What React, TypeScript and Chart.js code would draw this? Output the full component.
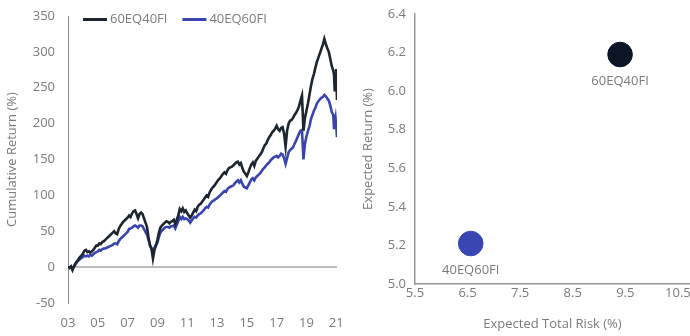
import React, { useEffect, useRef } from "react";
import { Chart, registerables } from "chart.js";

Chart.register(...registerables);

// ---------- DATA ----------
const seriesNames = ["60EQ40FI", "40EQ60FI"];

// decimal years (x positions of the cumulative return series)
const years = [
  2003.0, 2003.1, 2003.2, 2003.3, 2003.4, 2003.5, 2003.6, 2003.7, 2003.8, 2003.9,
  2004.0, 2004.1, 2004.2, 2004.3, 2004.4, 2004.5, 2004.6, 2004.7, 2004.8, 2004.9,
  2005.0, 2005.1, 2005.2, 2005.3, 2005.4, 2005.5, 2005.6, 2005.7, 2005.8, 2005.9,
  2006.0, 2006.1, 2006.2, 2006.3, 2006.4, 2006.5, 2006.6, 2006.7, 2006.8, 2006.9,
  2007.0, 2007.1, 2007.2, 2007.3, 2007.4, 2007.5, 2007.6, 2007.7, 2007.8, 2007.9,
  2008.0, 2008.1, 2008.2, 2008.3, 2008.4, 2008.5, 2008.6, 2008.7, 2008.8, 2008.9,
  2009.0, 2009.1, 2009.2, 2009.3, 2009.4, 2009.5, 2009.6, 2009.7, 2009.8, 2009.9,
  2010.0, 2010.1, 2010.2, 2010.3, 2010.4, 2010.5, 2010.6, 2010.7, 2010.8, 2010.9,
  2011.0, 2011.1, 2011.2, 2011.3, 2011.4, 2011.5, 2011.6, 2011.7, 2011.8, 2011.9,
  2012.0, 2012.1, 2012.2, 2012.3, 2012.4, 2012.5, 2012.6, 2012.7, 2012.8, 2012.9,
  2013.0, 2013.1, 2013.2, 2013.3, 2013.4, 2013.5, 2013.6, 2013.7, 2013.8, 2013.9,
  2014.0, 2014.1, 2014.2, 2014.3, 2014.4, 2014.5, 2014.6, 2014.7, 2014.8, 2014.9,
  2015.0, 2015.1, 2015.2, 2015.3, 2015.4, 2015.5, 2015.6, 2015.7, 2015.8, 2015.9,
  2016.0, 2016.1, 2016.2, 2016.3, 2016.4, 2016.5, 2016.6, 2016.7, 2016.8, 2016.9,
  2017.0, 2017.1, 2017.2, 2017.3, 2017.4, 2017.5, 2017.6, 2017.7, 2017.8, 2017.9,
  2018.0, 2018.1, 2018.2, 2018.3, 2018.4, 2018.5, 2018.6, 2018.7, 2018.8, 2018.9,
  2019.0, 2019.1, 2019.2, 2019.3, 2019.4, 2019.5, 2019.6, 2019.7, 2019.8, 2019.9,
  2020.0, 2020.1, 2020.2, 2020.3, 2020.4, 2020.5, 2020.6, 2020.7, 2020.8, 2020.85,
  2020.9, 2020.95, 2021.0, 2021.05,
];

// cumulative return (%) – 60EQ40FI
const eq60fi40 = [
  0, -1, 1, -4, 1, 5, 8, 11, 14, 16,
  19, 23, 24, 21, 22, 20, 22, 24, 27, 30,
  30, 33, 32, 35, 36, 38, 40, 42, 44, 46,
  48, 50, 47, 46, 53, 57, 60, 63, 65, 67,
  69, 72, 70, 75, 78, 79, 74, 68, 74, 76,
  74, 68, 62, 56, 42, 30, 26, 12, 24, 30,
  38, 48, 55, 58, 60, 62, 64, 63, 61, 63,
  64, 66, 60, 66, 72, 81, 78, 82, 77, 79,
  75, 72, 69, 72, 76, 80, 78, 84, 87, 88,
  91, 94, 97, 100, 98, 104, 108, 111, 113, 116,
  119, 122, 124, 127, 130, 132, 130, 135, 138, 139,
  140, 142, 144, 146, 147, 143, 145, 138, 133, 130,
  127, 132, 138, 143, 146, 141, 148, 151, 154, 157,
  160, 165, 170, 172, 177, 181, 184, 188, 190, 193,
  197, 192, 190, 194, 195, 186, 168, 190, 200, 204,
  205, 208, 212, 215, 219, 224, 232, 239, 190, 208,
  218, 228, 240, 252, 262, 269, 278, 286, 292, 298,
  304, 310, 318, 311, 305, 300, 290, 280, 274, 268,
  245, 262, 276, 233,
];

// cumulative return (%) – 40EQ60FI
const eq40fi60 = [
  0, -1, 1, -3, 1, 4, 7, 9, 11, 13,
  14, 16, 15, 16, 15, 17, 16, 18, 20, 21,
  22, 24, 23, 25, 26, 26, 27, 28, 29, 30,
  31, 33, 33, 32, 36, 39, 41, 43, 45, 47,
  49, 53, 54, 55, 57, 58, 57, 55, 58, 58,
  57, 53, 49, 45, 38, 31, 26, 20, 27, 31,
  34, 42, 48, 51, 53, 55, 56, 56, 55, 57,
  57, 58, 54, 59, 64, 70, 67, 70, 67, 68,
  67, 65, 62, 65, 68, 70, 69, 72, 74, 75,
  77, 79, 82, 84, 83, 87, 90, 92, 93, 95,
  96, 98, 100, 102, 104, 106, 105, 109, 111, 112,
  113, 114, 117, 119, 121, 118, 121, 116, 112, 111,
  110, 114, 118, 122, 124, 121, 125, 127, 129, 131,
  134, 137, 139, 142, 144, 146, 149, 151, 153, 154,
  155, 153, 155, 158, 157, 152, 144, 152, 160, 163,
  165, 167, 172, 176, 181, 186, 190, 191, 150, 172,
  182, 190, 196, 206, 212, 218, 222, 228, 231, 234,
  236, 237, 240, 238, 235, 232, 225, 216, 212, 194,
  202, 208, 196, 181,
];

// x-axis tick years of the left chart (labelled "03" … "21")
const yearTicks = [2003, 2005, 2007, 2009, 2011, 2013, 2015, 2017, 2019, 2021];

// expected risk / return (%)
const expectedRisk = [9.4, 6.56];
const expectedReturn = [6.19, 5.21];
const riskTicks = [5.5, 6.5, 7.5, 8.5, 9.5, 10.5];

// ---------- STYLE ----------
const lineColors = ["#1d262f", "#3a44b0"];
const dotColors = ["#0b1526", "#3a45b4"];
const textColor = "#7b7b7b";
const fontFamily = "'Open Sans', sans-serif";

Chart.defaults.font.family = fontFamily;
Chart.defaults.font.size = 13;
Chart.defaults.color = textColor;

const noPad = (s: any) => {
  s.paddingLeft = 0;
  s.paddingRight = 0;
  s.paddingTop = 0;
  s.paddingBottom = 0;
};

const lineLegendPlugin = {
  id: "lineLegend",
  afterDraw(chart: any) {
    const { ctx, chartArea } = chart;
    ctx.save();
    ctx.font = `13px ${fontFamily}`;
    ctx.textBaseline = "middle";
    ctx.textAlign = "left";
    const y = chartArea.top + 3.5;
    let x = chartArea.left + 15;
    chart.data.datasets.forEach((ds: any) => {
      ctx.strokeStyle = ds.borderColor;
      ctx.lineWidth = 3;
      ctx.beginPath();
      ctx.moveTo(x, y);
      ctx.lineTo(x + 24, y);
      ctx.stroke();
      ctx.fillStyle = textColor;
      ctx.fillText(ds.label, x + 27, y);
      x += 27 + ctx.measureText(ds.label).width + 15;
    });
    ctx.restore();
  },
};

const pointLabelPlugin = {
  id: "pointLabels",
  afterDatasetsDraw(chart: any) {
    const { ctx } = chart;
    ctx.save();
    ctx.font = `13px ${fontFamily}`;
    ctx.textBaseline = "middle";
    ctx.textAlign = "center";
    ctx.fillStyle = textColor;
    chart.data.datasets.forEach((ds: any, i: number) => {
      const meta = chart.getDatasetMeta(i);
      meta.data.forEach((pt: any) => {
        ctx.fillText(ds.label, pt.x, pt.y + 27);
      });
    });
    ctx.restore();
  },
};

function LineChart() {
  const ref = useRef<HTMLCanvasElement>(null);
  useEffect(() => {
    if (!ref.current) return;
    const seriesValues = [eq60fi40, eq40fi60];
    const chart = new Chart(ref.current, {
      type: "line",
      data: {
        datasets: seriesNames.map((name, i) => ({
          label: name,
          data: years.map((x, k) => ({ x, y: seriesValues[i][k] })),
          borderColor: lineColors[i],
          backgroundColor: lineColors[i],
          borderWidth: 2.6,
          pointRadius: 0,
          tension: 0,
        })),
      },
      options: {
        animation: false,
        responsive: false,
        maintainAspectRatio: false,
        layout: { autoPadding: false, padding: { top: 16, right: 8, bottom: 0, left: 0 } },
        plugins: { legend: { display: false }, tooltip: { enabled: false } },
        scales: {
          x: {
            type: "linear",
            min: 2003,
            max: 2021.05,
            border: { display: false },
            grid: { display: false, drawTicks: false },
            afterBuildTicks: (s: any) => {
              s.ticks = yearTicks.map((v) => ({ value: v }));
            },
            ticks: {
              padding: 12,
              maxRotation: 0,
              autoSkip: false,
              color: textColor,
              callback: (v: any) => String(Math.round(Number(v)) % 100).padStart(2, "0"),
            },
            afterFit: (s: any) => {
              s.height = 33;
              noPad(s);
            },
          },
          y: {
            min: -50,
            max: 350,
            border: { display: true, color: "#8a8a8a", width: 1 },
            grid: {
              drawTicks: false,
              lineWidth: 2,
              color: (c: any) => (c.tick && c.tick.value === 0 ? "#bdbdbd" : "rgba(0,0,0,0)"),
            },
            ticks: { stepSize: 50, padding: 13, color: textColor },
            title: {
              display: true,
              text: "Cumulative Return (%)",
              color: textColor,
              padding: { top: 4, bottom: 4 },
            },
            afterFit: (s: any) => {
              s.width = 68;
              noPad(s);
            },
          },
        },
      },
      plugins: [lineLegendPlugin],
    } as any);
    return () => chart.destroy();
  }, []);
  return <canvas ref={ref} width={345} height={336} style={{ position: "absolute", left: 0, top: 0, width: 345, height: 336 }} />;
}

function ScatterChart() {
  const ref = useRef<HTMLCanvasElement>(null);
  useEffect(() => {
    if (!ref.current) return;
    const chart = new Chart(ref.current, {
      type: "scatter",
      data: {
        datasets: seriesNames.map((name, i) => ({
          label: name,
          data: [{ x: expectedRisk[i], y: expectedReturn[i] }],
          backgroundColor: dotColors[i],
          borderColor: dotColors[i],
          pointRadius: 12.3,
          pointHoverRadius: 12.3,
        })),
      },
      options: {
        animation: false,
        responsive: false,
        maintainAspectRatio: false,
        layout: { autoPadding: false, padding: { top: 14, right: 0, bottom: 0, left: 0 } },
        plugins: { legend: { display: false }, tooltip: { enabled: false } },
        scales: {
          x: {
            type: "linear",
            min: 5.5,
            max: 10.73,
            border: { display: true, color: "#9a9a9a", width: 1.5 },
            grid: { display: false, drawTicks: false },
            afterBuildTicks: (s: any) => {
              s.ticks = riskTicks.map((v) => ({ value: v }));
            },
            ticks: {
              padding: 1,
              maxRotation: 0,
              autoSkip: false,
              color: textColor,
              callback: (v: any) => Number(v).toFixed(1),
            },
            title: {
              display: true,
              text: "Expected Total Risk (%)",
              color: textColor,
              padding: { top: 4, bottom: 4 },
            },
            afterFit: (s: any) => {
              s.height = 52;
              noPad(s);
            },
          },
          y: {
            min: 5.0,
            max: 6.4,
            border: { display: true, color: "#9a9a9a", width: 1.5 },
            grid: { display: false, drawTicks: false },
            ticks: {
              stepSize: 0.2,
              padding: 9,
              color: textColor,
              callback: (v: any) => Number(v).toFixed(1),
            },
            title: {
              display: true,
              text: "Expected Return (%)",
              color: textColor,
              padding: { top: 15, bottom: 4 },
            },
            afterFit: (s: any) => {
              s.width = 70;
              noPad(s);
            },
          },
        },
      },
      plugins: [pointLabelPlugin],
    } as any);
    return () => chart.destroy();
  }, []);
  return <canvas ref={ref} width={345} height={336} style={{ position: "absolute", left: 345, top: 0, width: 345, height: 336 }} />;
}

export default function App() {
  return (
    <div style={{ position: "fixed", left: 0, top: 0, width: 690, height: 336, background: "#fff" }}>
      <LineChart />
      <ScatterChart />
    </div>
  );
}
